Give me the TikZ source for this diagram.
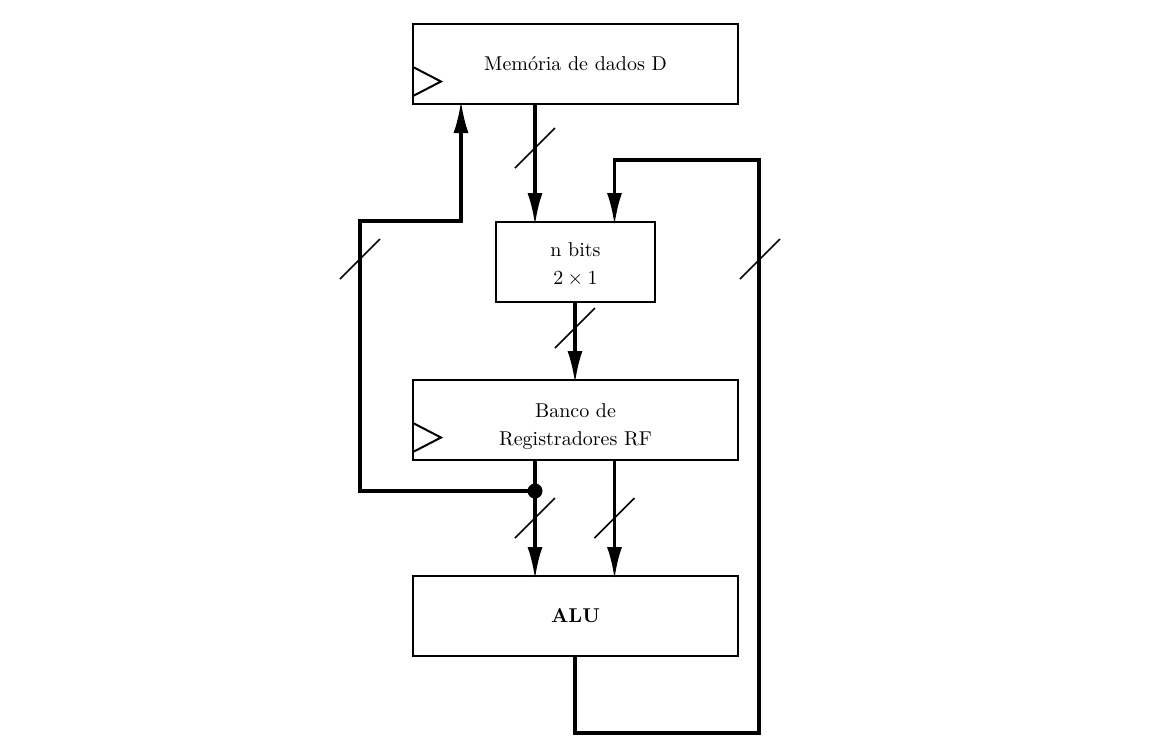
\documentclass[tikz,border=0pt]{standalone}
\usetikzlibrary{arrows.meta,calc}
\begin{document}
\begin{tikzpicture}[x=0.5pt,y=-0.5pt,
  block/.style={draw,line width=1pt,minimum width=162.5pt,minimum height=40pt,
    inner sep=0pt,outer sep=0pt,align=center,font=\normalsize},
  smallblock/.style={block,minimum width=79.5pt},
  bus/.style={line width=1.6pt,shorten >=-1.5pt,-{Latex[length=16pt,width=7.5pt]}},
  slashline/.style={line width=0.8pt},
  clk/.style={line width=1pt},
  junction/.style={circle,fill=black,inner sep=0pt,minimum size=7.5pt}]
\useasboundingbox (0,0) rectangle (1151,746);

% blocks
\node[block] (mem) at (575.5,64) {Mem\'oria de dados D};
\node[smallblock] (mux) at (575.5,262) {\rule{0pt}{9pt}n bits\\[2pt]$2\times1$};
\node[block] (rf) at (575.5,420) {\rule{0pt}{14pt}Banco de\\[2pt]Registradores RF};
\node[block] (alu) at (575.5,616) {\textbf{ALU}};

% clock inputs
\draw[clk] ($(mem.south west)+(0,-37)$) -- ($(mem.south west)+(28,-22.5)$) -- ($(mem.south west)+(0,-8)$);
\draw[clk] ($(rf.south west)+(0,-37)$) -- ($(rf.south west)+(28,-22.5)$) -- ($(rf.south west)+(0,-8)$);

% route points
\coordinate (xa) at (535,0);
\coordinate (xb) at (614.5,0);
\coordinate (xc) at (575,0);
\coordinate (xd) at (461,0);
\coordinate (b1) at (575,733);
\coordinate (b2) at (759,733);
\coordinate (b3) at (759,160);
\coordinate (b4) at (614.5,160);
\coordinate (l1) at (360,491);
\coordinate (l2) at (360,221);
\coordinate (l3) at (461,221);

% memory -> mux
\draw[bus] (mem.south -| xa) -- (mux.north -| xa);
% mux -> register file
\draw[bus] (mux.south -| xc) -- (rf.north -| xc);
% register file -> ALU
\node[junction] (dot) at (535,491) {};
\draw[bus] (rf.south -| xa) -- (alu.north -| xa);
\draw[bus] (rf.south -| xb) -- (alu.north -| xb);
% register file -> memory
\draw[bus] (dot.center) -- (l1) -- (l2) -- (l3) -- (mem.south -| xd);
% ALU -> mux
\draw[bus] (alu.south -| b1) -- (b1) -- (b2) -- (b3) -- (b4) -- (mux.north -| b4);

% bus width marks
\foreach \p in {(535,148),(575,328),(535,518),(614.5,518),(360,259),(760,259)}
  \draw[slashline] \p ++(-20,20) -- ++(40,-40);
\end{tikzpicture}
\end{document}
